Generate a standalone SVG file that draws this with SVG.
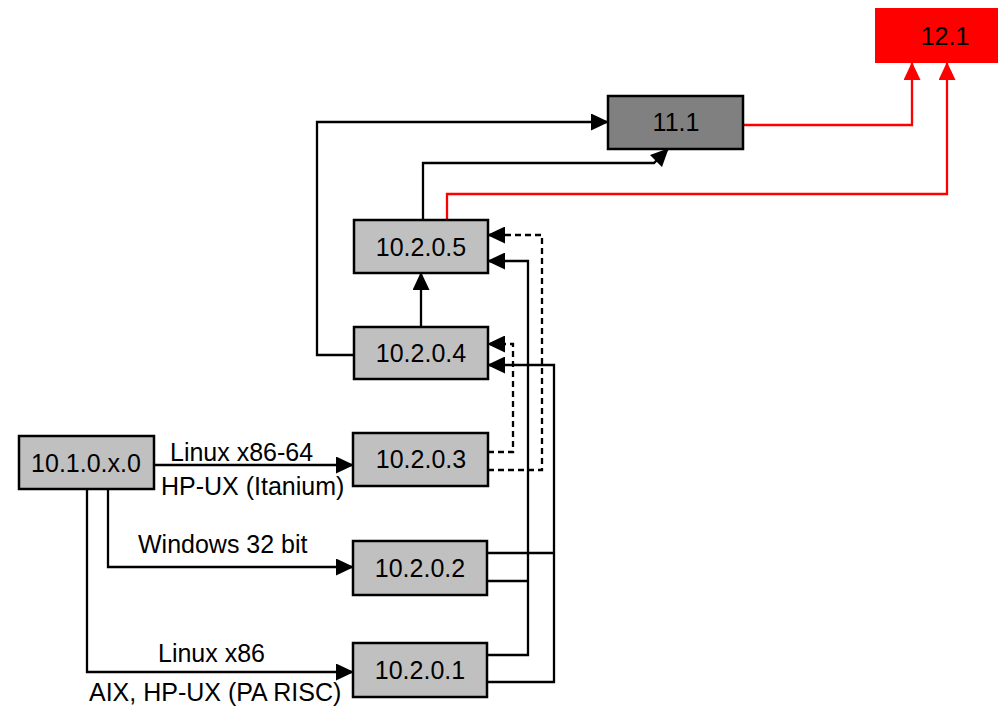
<svg xmlns="http://www.w3.org/2000/svg" width="998" height="707" viewBox="0 0 998 707">
<defs>
<marker id="ab" markerUnits="userSpaceOnUse" markerWidth="18" markerHeight="17" refX="17" refY="8.5" orient="auto"><path d="M0,0 L18,8.5 L0,17 z" fill="#000"/></marker>
<marker id="ar" markerUnits="userSpaceOnUse" markerWidth="18" markerHeight="17" refX="17" refY="8.5" orient="auto"><path d="M0,0 L18,8.5 L0,17 z" fill="#f00"/></marker>
<style>
.box{fill:#c0c0c0;stroke:#000;stroke-width:2.5}
.dark{fill:#808080;stroke:#000;stroke-width:2.5}
.red{fill:#f00;stroke:none}
text{font-family:"Liberation Sans",Arial,sans-serif;font-size:25px;fill:#000}
.c{text-anchor:middle}
.ln{fill:none;stroke:#000;stroke-width:2.3}
.rl{fill:none;stroke:#f00;stroke-width:2.3}
.dl{fill:none;stroke:#000;stroke-width:2.3;stroke-dasharray:6 4}
</style>
</defs>
<g id="connectors">
<path class="ln" d="M154,465 H353" marker-end="url(#ab)"/>
<path class="ln" d="M108,489 V567 H353" marker-end="url(#ab)"/>
<path class="ln" d="M87,489 V672 H353" marker-end="url(#ab)"/>
<path class="ln" d="M421,327 V273" marker-end="url(#ab)"/>
<path class="ln" d="M354,355 H317 V122 H608" marker-end="url(#ab)"/>
<path class="ln" d="M423,220 V163 H654 L668,149" marker-end="url(#ab)"/>
<path class="rl" d="M743,125 H912 V63" marker-end="url(#ar)"/>
<path class="rl" d="M447,220 V194 H947 V63" marker-end="url(#ar)"/>
<path class="dl" d="M488,452 H513 V344 H488" marker-end="url(#ab)"/>
<path class="dl" d="M488,470 H542 V235 H488" marker-end="url(#ab)"/>
<path class="ln" d="M487,655 H528 V261 H488" marker-end="url(#ab)"/>
<path class="ln" d="M487,581 H528"/>
<path class="ln" d="M487,682 H554 V365 H488" marker-end="url(#ab)"/>
<path class="ln" d="M487,553 H554"/>
<text x="170" y="461">Linux x86-64</text>
<text x="161" y="495">HP-UX (Itanium)</text>
<text x="138" y="553">Windows 32 bit</text>
<text x="158" y="662">Linux x86</text>
<text x="89" y="701">AIX, HP-UX (PA RISC)</text>
</g>
<g id="n12_1"><rect class="red" x="875" y="8" width="140" height="55"/><text class="c" x="945" y="45">12.1</text></g>
<g id="n11_1"><rect class="dark" x="608" y="96" width="135" height="53"/><text class="c" x="676" y="131">11.1</text></g>
<g id="n10_2_0_5"><rect class="box" x="354" y="220" width="134" height="53"/><text class="c" x="421" y="256">10.2.0.5</text></g>
<g id="n10_2_0_4"><rect class="box" x="354" y="327" width="134" height="52"/><text class="c" x="421" y="362">10.2.0.4</text></g>
<g id="n10_2_0_3"><rect class="box" x="353" y="433" width="135" height="53"/><text class="c" x="421" y="468">10.2.0.3</text></g>
<g id="n10_2_0_2"><rect class="box" x="353" y="541" width="134" height="54"/><text class="c" x="420" y="577">10.2.0.2</text></g>
<g id="n10_2_0_1"><rect class="box" x="353" y="643" width="134" height="54"/><text class="c" x="420" y="679">10.2.0.1</text></g>
<g id="n10_1_0_x_0"><rect class="box" x="19" y="436" width="135" height="53"/><text class="c" x="86" y="472">10.1.0.x.0</text></g>
</svg>
